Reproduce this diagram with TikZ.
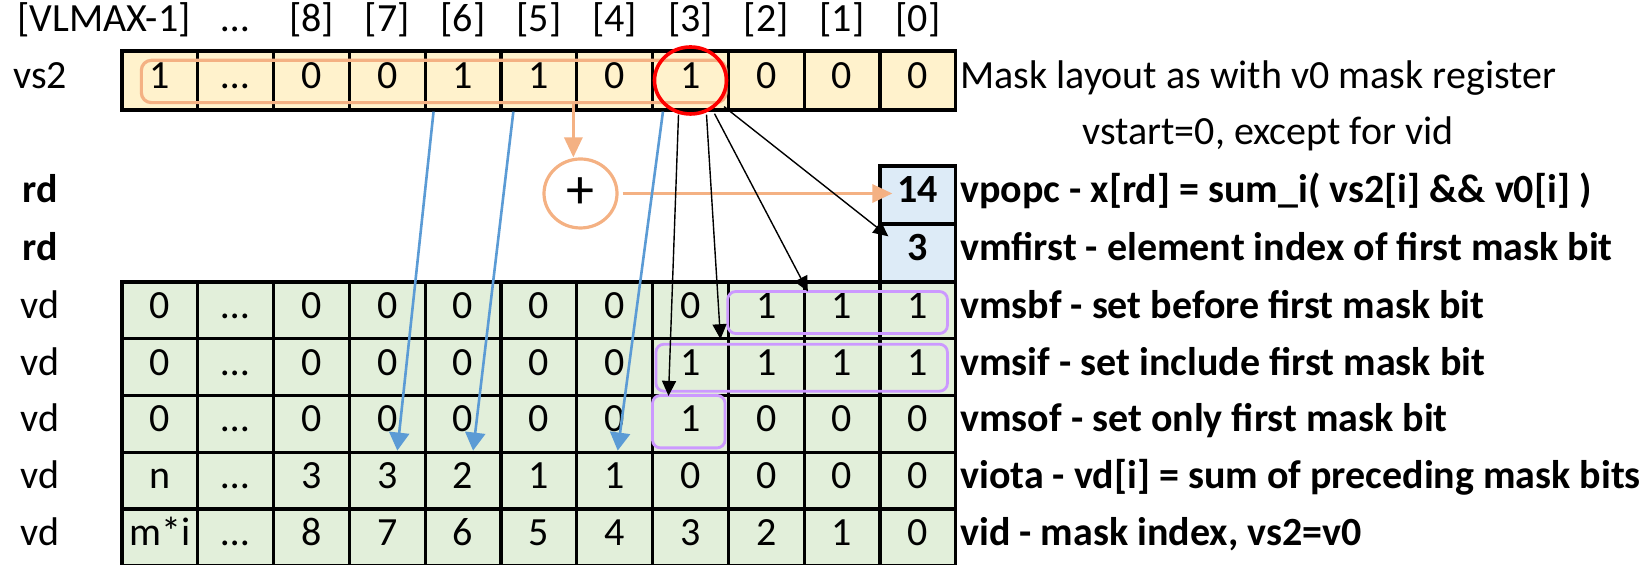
\documentclass[tikz,border=0pt]{standalone}
\usepackage{fontspec}
\setmainfont{Carlito}
\usetikzlibrary{positioning, arrows.meta, calc, shapes.geometric}

\definecolor{maskfill}{RGB}{255,242,204}
\definecolor{vdfill}{RGB}{226,239,218}
\definecolor{rdfill}{RGB}{221,235,247}
\definecolor{sumorange}{RGB}{244,177,131}
\definecolor{setviolet}{RGB}{204,153,255}
\definecolor{iotablue}{RGB}{91,155,213}

\begin{document}
\begin{tikzpicture}[
  x=0.5pt, y=-0.5pt,
  font=\fontsize{20}{24}\selectfont,
  txt/.style={inner sep=0pt, text height=0.8em, text depth=0pt},
  cell/.style={txt, draw, line width=1.65pt, minimum width=37.9pt, minimum height=28.35pt, fill=vdfill},
  maskcell/.style={cell, fill=maskfill, minimum height=29.5pt},
  rdcell/.style={cell, fill=rdfill, minimum height=29pt, font=\fontsize{20}{24}\selectfont\bfseries},
  desc/.style={txt, anchor=west, font=\fontsize{20}{24}\selectfont\bfseries},
  setgroup/.style={draw=setviolet, line width=1.4pt, rounded corners=4pt},
  sumgroup/.style={draw=sumorange, line width=1.6pt, rounded corners=5pt},
  sumarrow/.style={-{Triangle[length=10pt, width=9pt]}, sumorange, line width=1.6pt},
  maskarrow/.style={-{Triangle[length=9pt, width=10pt]}, iotablue, line width=1.3pt},
  firstarrow/.style={-{Triangle[length=7.5pt, width=7pt]}, line width=0.7pt}
]
\useasboundingbox (0,0) rectangle (1644,565);

% Element indices
\node[txt] (hd-0) at (104, 24) {[VLMAX-1]};
\foreach \h [count=\k from 1] in {…,[8],[7],[6],[5],[4],[3],[2],[1],[0]} {
  \node[txt] (hd-\k) at ({159.9+75.8*\k}, 24) {\h};
}

% Source mask register vs2
\node[txt] (lbl-s) at (40, 80.5) {vs2};
\foreach \v [count=\k from 0] in {1,…,0,0,1,1,0,1,0,0,0} {
  \node[maskcell] (s-\k) at ({159.9+75.8*\k}, 80.5) {\v};
}

% Scalar results in rd
\node[rdcell] (pc1) at (s-10 |- 0,195) {14};
\node[rdcell] (pc2) at (s-10 |- 0,253) {3};
\node[txt, font=\fontsize{20}{24}\selectfont\bfseries] (lbl-pc1) at (40, 195) {rd};
\node[txt, font=\fontsize{20}{24}\selectfont\bfseries] (lbl-pc2) at (40, 253) {rd};

% Destination rows vd
\foreach \v [count=\k from 0] in {0,…,0,0,0,0,0,0,1,1,1} {
  \node[cell] (bf-\k) at ({159.9+75.8*\k}, 310.5) {\v};
}
\foreach \v [count=\k from 0] in {0,…,0,0,0,0,0,1,1,1,1} {
  \node[cell] (if-\k) at ({159.9+75.8*\k}, 367.2) {\v};
}
\foreach \v [count=\k from 0] in {0,…,0,0,0,0,0,1,0,0,0} {
  \node[cell] (of-\k) at ({159.9+75.8*\k}, 423.9) {\v};
}
\foreach \v [count=\k from 0] in {n,…,3,3,2,1,1,0,0,0,0} {
  \node[cell] (io-\k) at ({159.9+75.8*\k}, 480.6) {\v};
}
\foreach \v [count=\k from 0] in {m*i,…,8,7,6,5,4,3,2,1,0} {
  \node[cell] (id-\k) at ({159.9+75.8*\k}, 537.3) {\v};
}
\foreach \r/\y in {bf/310.5, if/367.2, of/423.9, io/480.6, id/537.3} {
  \node[txt] (lbl-\r) at (40, \y) {vd};
}

% Descriptions
\node[txt, anchor=west] (d-s) at (960, 80.5) {Mask layout as with v0 mask register};
\node[txt] (d-vstart) at (1268, 137) {vstart=0, except for vid};
\node[desc] (d-pc1) at (960, 195) {vpopc - x[rd] = sum\_i( vs2[i] \&\& v0[i] )};
\node[desc] (d-pc2) at (960, 253) {vmfirst - element index of first mask bit};
\node[desc] (d-bf) at (960, 310.5) {vmsbf - set before first mask bit};
\node[desc] (d-if) at (960, 367.2) {vmsif - set include first mask bit};
\node[desc] (d-of) at (960, 423.9) {vmsof - set only first mask bit};
\node[desc] (d-io) at (960, 480.6) {viota - vd[i] = sum of preceding mask bits};
\node[desc] (d-id) at (960, 537.3) {vid - mask index, vs2=v0};

% Groups of set bits
\draw[sumgroup] ($(s-0.north west)+(21,11)$) rectangle ($(s-7.south east)+(-4,-9)$);
\draw[setgroup] ($(bf-8.north west)+(1,11)$) rectangle ($(bf-10.south east)+(-10,-7)$);
\draw[setgroup] ($(if-7.north west)+(5,7)$) rectangle ($(if-10.south east)+(-10,-6)$);
\draw[setgroup] ($(of-7.north west)+(1.5,1.5)$) rectangle ($(of-7.south east)+(-5,-6)$);

% Population count
\node[ellipse, draw=sumorange, line width=1.6pt, minimum width=36.5pt, minimum height=34.5pt, inner sep=0pt, font=\fontsize{28}{28}\selectfont] (plus) at (580.5, 193.5) {+};
\coordinate (sumout) at ($(s-0.south west)+(453,-9)$);
\draw[sumarrow] (sumout) -- (sumout |- plus.north);
\draw[sumarrow] ([xshift=2pt]plus.east) -- ([xshift=7pt]plus.east -| pc1.west);

% First set bit
\node[ellipse, draw=red, line width=1.8pt, minimum width=36pt, minimum height=33.5pt, inner sep=0pt] (hit) at (s-7) {};
\draw[firstarrow] ([xshift=-6pt, yshift=-1.5pt]s-7.south) -- ([xshift=-11pt, yshift=-1pt]of-7.north);
\draw[firstarrow] ([xshift=8pt, yshift=-1.5pt]s-7.south) -- ([xshift=15pt, yshift=-1pt]if-7.north);
\draw[firstarrow] ([xshift=12pt, yshift=-1pt]s-7.south) -- ($(bf-8.north east)+(2,11)$);
\draw[firstarrow] ($(s-7.south east)+(-6,-5)$) -- ($(pc2.north west)+(10,14)$);

% Running count for viota
\draw[maskarrow] ([xshift=5pt]s-4.south west) -- ([xshift=5pt]io-3.north);
\draw[maskarrow] ([xshift=7pt]s-5.south west) -- ([xshift=5pt]io-4.north);
\draw[maskarrow] ([xshift=6pt]s-7.south west) -- ([xshift=1.5pt]io-6.north);

\end{tikzpicture}
\end{document}
